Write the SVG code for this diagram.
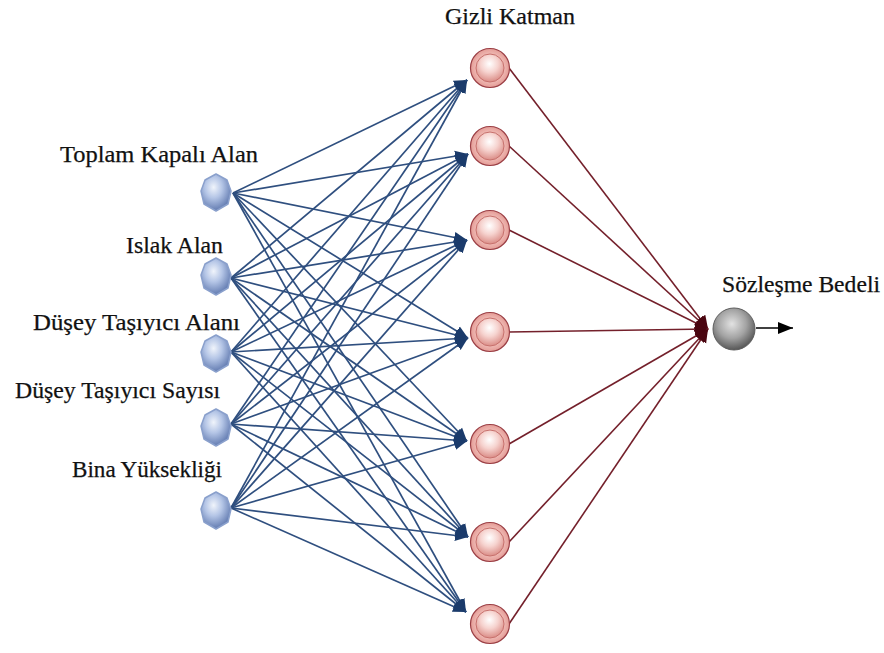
<svg xmlns="http://www.w3.org/2000/svg" width="884" height="653" viewBox="0 0 884 653">
<defs>
<style>
.lbl{font-family:"Liberation Serif","Times New Roman",serif;font-size:23px;fill:#111;stroke:#111;stroke-width:0.25}
.bl{stroke:#2f4f7f;stroke-width:1.7;fill:none;marker-end:url(#ab)}
.rl{stroke:#74202b;stroke-width:1.6;fill:none;marker-end:url(#ar)}
</style>
<marker id="ab" markerUnits="userSpaceOnUse" markerWidth="14" markerHeight="12" refX="13" refY="6" orient="auto">
<path d="M0,0.5 L13,6 L0,11.5 z" fill="#1b3b6b"/>
</marker>
<marker id="ar" markerUnits="userSpaceOnUse" markerWidth="14" markerHeight="14" refX="13" refY="7" orient="auto">
<path d="M0,0.5 L13,7 L0,13.5 z" fill="#4a0510"/>
</marker>
<marker id="ak" markerUnits="userSpaceOnUse" markerWidth="16" markerHeight="12" refX="15" refY="6" orient="auto">
<path d="M0,0 L15,6 L0,12 z" fill="#000"/>
</marker>
<radialGradient id="gIn" cx="42%" cy="36%" r="64%">
<stop offset="0" stop-color="#f0f4fb"/>
<stop offset="0.45" stop-color="#b4c5e6"/>
<stop offset="1" stop-color="#617ab0"/>
</radialGradient>
<radialGradient id="gRing" cx="50%" cy="50%" r="50%">
<stop offset="0.6" stop-color="#f3c3be"/>
<stop offset="1" stop-color="#e49c96"/>
</radialGradient>
<radialGradient id="gHid" cx="48%" cy="35%" r="62%">
<stop offset="0" stop-color="#ffffff"/>
<stop offset="0.5" stop-color="#f6d3cf"/>
<stop offset="1" stop-color="#dd938d"/>
</radialGradient>
<radialGradient id="gOut" cx="45%" cy="38%" r="62%">
<stop offset="0" stop-color="#e2e2e2"/>
<stop offset="0.55" stop-color="#a3a3a3"/>
<stop offset="1" stop-color="#575757"/>
</radialGradient>
<path id="inShape" d="M0,-19 L11,-13 L15,-2 L12,11 L0,18 L-12,11 L-15,-2 L-11,-13 Z"/>
<g id="hidShape">
<circle r="19.5" fill="url(#gRing)" stroke="#9b3f45" stroke-width="1.2"/>
<circle r="14" fill="url(#gHid)" stroke="#c7716d" stroke-width="1"/>
</g>
</defs>
<rect width="884" height="653" fill="#fff"/>

<g id="connectors">
<g id="in-hidden">
<line class="bl" x1="233" y1="193" x2="467" y2="80"/>
<line class="bl" x1="233" y1="193" x2="468" y2="154"/>
<line class="bl" x1="233" y1="193" x2="467" y2="240"/>
<line class="bl" x1="233" y1="193" x2="468" y2="338"/>
<line class="bl" x1="233" y1="193" x2="467" y2="441"/>
<line class="bl" x1="233" y1="193" x2="468" y2="537"/>
<line class="bl" x1="233" y1="193" x2="466" y2="612"/>
<line class="bl" x1="231" y1="278" x2="467" y2="80"/>
<line class="bl" x1="231" y1="278" x2="468" y2="154"/>
<line class="bl" x1="231" y1="278" x2="467" y2="240"/>
<line class="bl" x1="231" y1="278" x2="468" y2="338"/>
<line class="bl" x1="231" y1="278" x2="467" y2="441"/>
<line class="bl" x1="231" y1="278" x2="468" y2="537"/>
<line class="bl" x1="231" y1="278" x2="466" y2="612"/>
<line class="bl" x1="231" y1="352" x2="467" y2="80"/>
<line class="bl" x1="231" y1="352" x2="468" y2="154"/>
<line class="bl" x1="231" y1="352" x2="467" y2="240"/>
<line class="bl" x1="231" y1="352" x2="468" y2="338"/>
<line class="bl" x1="231" y1="352" x2="467" y2="441"/>
<line class="bl" x1="231" y1="352" x2="468" y2="537"/>
<line class="bl" x1="231" y1="352" x2="466" y2="612"/>
<line class="bl" x1="231" y1="424" x2="467" y2="80"/>
<line class="bl" x1="231" y1="424" x2="468" y2="154"/>
<line class="bl" x1="231" y1="424" x2="467" y2="240"/>
<line class="bl" x1="231" y1="424" x2="468" y2="338"/>
<line class="bl" x1="231" y1="424" x2="467" y2="441"/>
<line class="bl" x1="231" y1="424" x2="468" y2="537"/>
<line class="bl" x1="231" y1="424" x2="466" y2="612"/>
<line class="bl" x1="231" y1="508" x2="467" y2="80"/>
<line class="bl" x1="231" y1="508" x2="468" y2="154"/>
<line class="bl" x1="231" y1="508" x2="467" y2="240"/>
<line class="bl" x1="231" y1="508" x2="468" y2="338"/>
<line class="bl" x1="231" y1="508" x2="467" y2="441"/>
<line class="bl" x1="231" y1="508" x2="468" y2="537"/>
<line class="bl" x1="231" y1="508" x2="466" y2="612"/>
</g>
<g id="hidden-out">
<line class="rl" x1="509" y1="68" x2="708" y2="329"/>
<line class="rl" x1="509" y1="146" x2="708" y2="329"/>
<line class="rl" x1="509" y1="230" x2="708" y2="329"/>
<line class="rl" x1="509" y1="332" x2="708" y2="329"/>
<line class="rl" x1="509" y1="444" x2="708" y2="329"/>
<line class="rl" x1="509" y1="542" x2="708" y2="329"/>
<line class="rl" x1="509" y1="624" x2="708" y2="329"/>
</g>
<line id="out-arrow" x1="756" y1="328" x2="793" y2="328" stroke="#000" stroke-width="1.5" marker-end="url(#ak)"/>
</g>

<g id="in1"><use href="#inShape" x="216" y="193" fill="url(#gIn)" stroke="#8aa0cc" stroke-width="1.5" stroke-linejoin="round"/><text class="lbl" x="60" y="162" textLength="198" lengthAdjust="spacingAndGlyphs">Toplam Kapalı Alan</text></g>
<g id="in2"><use href="#inShape" x="216" y="277" fill="url(#gIn)" stroke="#8aa0cc" stroke-width="1.5" stroke-linejoin="round"/><text class="lbl" x="126" y="253" textLength="97" lengthAdjust="spacingAndGlyphs">Islak Alan</text></g>
<g id="in3"><use href="#inShape" x="216" y="354" fill="url(#gIn)" stroke="#8aa0cc" stroke-width="1.5" stroke-linejoin="round"/><text class="lbl" x="33" y="330" textLength="207" lengthAdjust="spacingAndGlyphs">Düşey Taşıyıcı Alanı</text></g>
<g id="in4"><use href="#inShape" x="216" y="428" fill="url(#gIn)" stroke="#8aa0cc" stroke-width="1.5" stroke-linejoin="round"/><text class="lbl" x="15" y="398" textLength="205" lengthAdjust="spacingAndGlyphs">Düşey Taşıyıcı Sayısı</text></g>
<g id="in5"><use href="#inShape" x="216" y="511" fill="url(#gIn)" stroke="#8aa0cc" stroke-width="1.5" stroke-linejoin="round"/><text class="lbl" x="72" y="477" textLength="150" lengthAdjust="spacingAndGlyphs">Bina Yüksekliği</text></g>

<g id="hidden-label"><text class="lbl" x="445" y="24" textLength="130" lengthAdjust="spacingAndGlyphs">Gizli Katman</text></g>
<g id="h1"><use href="#hidShape" x="490" y="68"/></g>
<g id="h2"><use href="#hidShape" x="490" y="146"/></g>
<g id="h3"><use href="#hidShape" x="490" y="230"/></g>
<g id="h4"><use href="#hidShape" x="490" y="332"/></g>
<g id="h5"><use href="#hidShape" x="490" y="444"/></g>
<g id="h6"><use href="#hidShape" x="490" y="542"/></g>
<g id="h7"><use href="#hidShape" x="490" y="624"/></g>

<g id="out"><circle cx="734" cy="329" r="21" fill="url(#gOut)" stroke="#5e5e5e" stroke-width="1"/><text class="lbl" x="722" y="292" textLength="158" lengthAdjust="spacingAndGlyphs">Sözleşme Bedeli</text></g>
</svg>
